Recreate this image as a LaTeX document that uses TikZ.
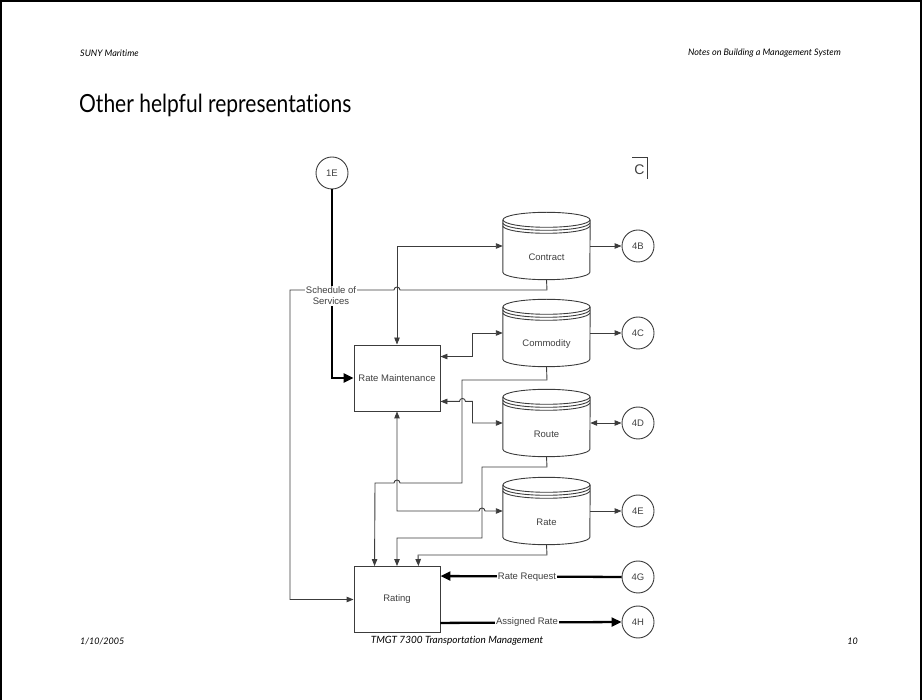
\documentclass[tikz,border=0pt]{standalone}
\usepackage{fontspec}
\setmainfont{Liberation Sans}
\newfontfamily\slidefont[Ligatures=NoCommon]{Lato}
\usetikzlibrary{arrows.meta,calc}

\definecolor{linegray}{HTML}{3C3C3C}
\definecolor{textgray}{HTML}{404040}

% cylinder outline (data store) drawn round a named node
\newcommand\drawstore[2]{%
  \draw[storeline] ($(#1.north)+(0,7.5)$) ellipse [x radius=43.5pt, y radius=7.5pt];
  \draw[storeline] ($(#1.north west)+(0,10.5)$) arc[start angle=180, end angle=360, x radius=43.5pt, y radius=7.5pt];
  \draw[storeline] ($(#1.north west)+(0,13.5)$) arc[start angle=180, end angle=360, x radius=43.5pt, y radius=7.5pt];
  \draw[storeline] ($(#1.north west)+(0,7.5)$) -- ($(#1.south west)+(0,-7.5)$)
    arc[start angle=180, end angle=360, x radius=43.5pt, y radius=7.5pt]
    -- ($(#1.north east)+(0,7.5)$);
  \node[dtext] (#1-label) at ([yshift=-11.5pt]#1.center) {#2};
}

\begin{document}
\begin{tikzpicture}[x=1pt,y=-1pt,
  dtext/.style={font=\fontsize{9.5}{11}\selectfont, text=textgray, inner sep=0.5pt},
  procbox/.style={draw=linegray, line width=0.9pt, minimum width=86pt, minimum height=66pt,
    inner sep=0pt, font=\fontsize{9.5}{11}\selectfont, text=textgray},
  storebox/.style={minimum width=87pt, minimum height=67pt, inner sep=0pt},
  storeline/.style={draw=linegray, line width=0.9pt},
  offpage/.style={circle, draw=linegray, line width=0.9pt, minimum size=32pt, inner sep=0pt,
    font=\fontsize{9.5}{11}\selectfont, text=textgray},
  flow/.style={draw=linegray, line width=0.9pt, -{Triangle[length=7pt,width=5.5pt]}},
  flowboth/.style={draw=linegray, line width=0.9pt, {Triangle[length=7pt,width=5.5pt]}-{Triangle[length=7pt,width=5.5pt]}},
  bigflow/.style={draw=black, line width=2.3pt, -{Triangle[length=10pt,width=9pt]}},
  flowlabel/.style={fill=white, font=\fontsize{9.5}{11}\selectfont, text=textgray, inner sep=1pt, align=center},
  hdr/.style={font=\slidefont\itshape\fontsize{9}{11}\selectfont, inner sep=0pt},
  ftr/.style={font=\slidefont\itshape\fontsize{10}{12}\selectfont, inner sep=0pt},
  titletext/.style={font=\slidefont\fontsize{25}{29}\selectfont, inner sep=0pt}
]
\useasboundingbox (0,0) rectangle (922,700);

% slide frame
\draw[line width=2pt] (1,700) -- (1,1) -- (920.5,1) -- (920.5,700);

% slide header, title and footer
\node[hdr, anchor=west] (hdrleft) at (80,53) {SUNY Maritime};
\node[hdr, anchor=east] (hdrright) at (841,53) {Notes on Building a Management System};
\node[titletext, anchor=west] (title) at (79,105) {\scalebox{0.84}[1]{Other helpful representations}};
\node[hdr, anchor=west] (date) at (80,641) {1/10/2005};
\node[ftr] (course) at (457,641) {TMGT 7300 Transportation Management};
\node[hdr, anchor=east] (page) at (858,641) {10};

% sheet corner mark
\draw[linegray, line width=0.9pt] (632,157) -- (647,157) -- (647,179);
\node[font=\fontsize{14}{16}\selectfont, text=textgray, inner sep=0pt] (cmark) at (639.5,170) {C};

% processes
\node[procbox] (rm) at (397,378) {Rate Maintenance};
\node[procbox] (rating) at (397,599.5) {Rating};

% data stores
\node[storebox] (contract)  at (546.5,246) {};
\node[storebox] (commodity) at (546.5,333) {};
\node[storebox] (route)     at (546.5,423) {};
\node[storebox] (rate)      at (546.5,511) {};
\drawstore{contract}{Contract}
\drawstore{commodity}{Commodity}
\drawstore{route}{Route}
\drawstore{rate}{Rate}

% off-page connectors
\node[offpage] (c1E) at (332,173) {1E};
\node[offpage] (c4B) at (638,246) {4B};
\node[offpage] (c4C) at (638,333) {4C};
\node[offpage] (c4D) at (638,423) {4D};
\node[offpage] (c4E) at (638,511) {4E};
\node[offpage] (c4G) at (638,577) {4G};
\node[offpage] (c4H) at (638,622) {4H};

% stores to off-page connectors
\draw[flow] (contract.east) -- (c4B.west);
\draw[flow] (commodity.east) -- (c4C.west);
\draw[flowboth] (route.east) -- (c4D.west);
\draw[flow] (rate.east) -- (c4E.west);

% rate maintenance <-> stores
\draw[flowboth] (rm.north) -- (rm.north |- contract.west) -- (contract.west);
\draw[flowboth] ($(rm.north east)+(0,12)$) -- ++(32,0) |- (commodity.west);
\draw[flowboth] ($(rm.south east)+(0,-10)$) -- ++(19,0)
  arc[start angle=180, end angle=0, radius=3pt] -- ++(7,0) |- (route.west);
\draw[flowboth] (rm.south) -- (397,511) -- (479,511)
  arc[start angle=180, end angle=0, radius=3pt] -- (rate.west);

% contract to rating (long loop on the left)
\draw[flow] (contract.south) -- (547,290) -- (400,290)
  arc[start angle=0, end angle=180, radius=3pt] -- (290,290) -- (290,599.5) -- (rating.west);

% commodity to rating
\draw[flow] (commodity.south) -- (547,380) -- (462,380) -- (462,483) -- (400,483)
  arc[start angle=0, end angle=180, radius=3pt] -- (375,483) -- ($(rating.north west)+(21,0)$);

% route to rating
\draw[flow] (route.south) -- (547,467) -- (482,467) -- (482,538) -- (397,538) -- (rating.north);

% rate to rating
\draw[flow] (rate.south) -- (547,555) -- (418,555) -- ($(rating.north east)+(-22,0)$);

% schedule of services into rate maintenance
\draw[bigflow] (c1E.south) -- (332,378) -- (rm.west);
\node[flowlabel] (sched) at (331,296) {Schedule of\\Services};

% rating requests and results
\draw[bigflow] (c4G.west) -- ($(rating.north east)+(0,10)$);
\node[flowlabel] (rreq) at (527,577) {Rate Request};
\draw[bigflow] ($(rating.south east)+(0,-10)$) -- (c4H.west);
\node[flowlabel] (arate) at (527,622) {Assigned Rate};
\end{tikzpicture}
\end{document}
